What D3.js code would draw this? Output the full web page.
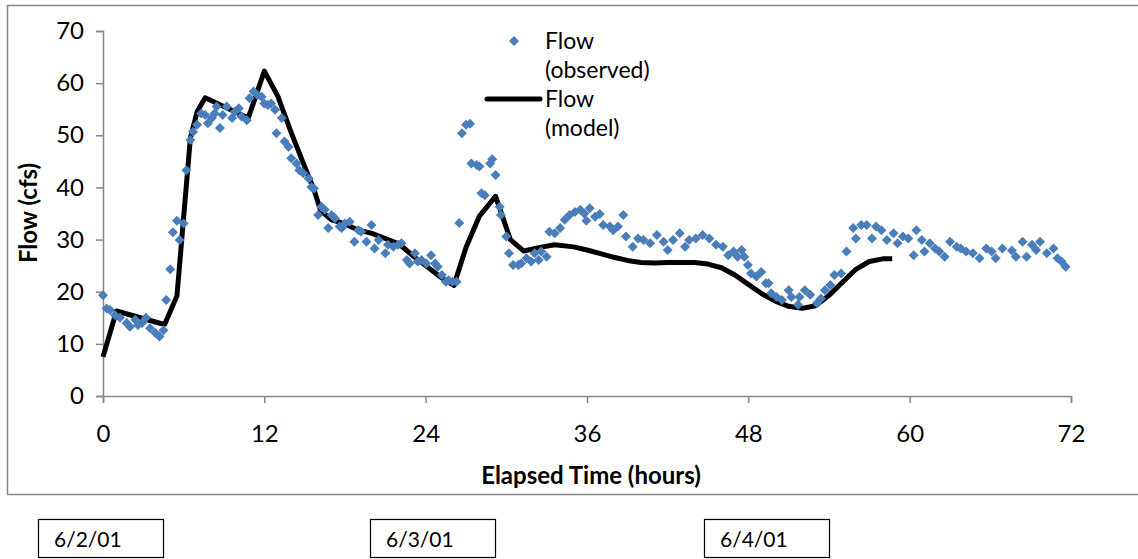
<!DOCTYPE html>
<html>
<head>
<meta charset="utf-8">
<script src="https://cdn.jsdelivr.net/npm/d3@7/dist/d3.min.js"></script>
<style>
  html, body { margin: 0; padding: 0; background: #fff; }
  svg { display: block; font-family: Lato, "Open Sans", "Liberation Sans", sans-serif; }
</style>
</head>
<body>
<svg id="chart" width="1138" height="559"></svg>
<script>
// Observed flow (cfs) against elapsed time (hours)
const observedHours = [
  0.0, 0.27, 0.52, 0.9, 1.26, 1.76, 2.0, 2.4, 2.6, 2.9, 3.2, 3.5, 3.9, 4.2, 4.5, 4.7,
  5.0, 5.2, 5.5, 5.7, 6.0, 6.2, 6.5, 6.7, 7.0, 7.3, 7.6, 7.8, 8.1, 8.3, 8.45, 8.7,
  8.9, 9.2, 9.6, 9.8, 10.1, 10.3, 10.7, 10.9, 11.2, 11.5, 11.8, 12.0, 12.27, 12.5, 12.8, 12.9,
  13.3, 13.5, 13.8, 14.0, 14.4, 14.6, 14.9, 15.3, 15.5, 15.7, 16.0, 16.25, 16.5, 16.75, 17.0, 17.25,
  17.6, 17.75, 18.0, 18.35, 18.7, 19.0, 19.2, 19.6, 19.97, 20.2, 20.5, 21.0, 21.2, 21.6, 21.95, 22.2,
  22.6, 22.8, 23.2, 23.4, 23.7, 24.05, 24.4, 24.7, 24.9, 25.2, 25.5, 25.7, 26.0, 26.3, 26.5, 26.7,
  27.0, 27.3, 27.4, 27.8, 28.0, 28.15, 28.4, 28.8, 28.95, 29.2, 29.5, 29.6, 30.0, 30.2, 30.5, 30.9,
  31.1, 31.5, 31.85, 32.1, 32.4, 32.6, 33.0, 33.2, 33.6, 34.0, 34.35, 34.7, 35.1, 35.5, 35.8, 35.95,
  36.2, 36.6, 36.95, 37.2, 37.7, 37.95, 38.3, 38.7, 38.9, 39.4, 39.8, 40.2, 40.7, 41.2, 41.7, 42.0,
  42.4, 42.9, 43.3, 43.6, 44.1, 44.6, 45.1, 45.6, 46.1, 46.5, 46.9, 47.2, 47.5, 47.7, 47.97, 48.2,
  48.6, 48.96, 49.3, 49.5, 49.7, 50.1, 50.5, 51.0, 51.2, 51.7, 51.8, 52.2, 52.6, 53.1, 53.4, 53.7,
  54.1, 54.4, 54.9, 55.3, 55.8, 56.0, 56.4, 56.8, 57.2, 57.5, 57.9, 58.3, 58.8, 59.1, 59.5, 59.9,
  60.3, 60.5, 60.9, 61.1, 61.5, 61.9, 62.2, 62.6, 63.0, 63.5, 63.8, 64.2, 64.7, 65.2, 65.7, 66.1,
  66.4, 66.9, 67.6, 67.9, 68.4, 68.7, 69.1, 69.4, 69.7, 70.2, 70.7, 71.0, 71.3, 71.6
];
const observedFlow = [
  19.3, 16.8, 16.5, 15.5, 15.0, 14.0, 13.3, 14.6, 13.6, 14.0, 15.0, 13.0, 12.1, 11.4, 12.6, 18.4,
  24.3, 31.4, 33.6, 29.9, 33.1, 43.3, 49.1, 50.7, 52.0, 54.2, 53.9, 52.3, 53.3, 54.2, 55.5, 51.4,
  53.9, 55.5, 53.3, 54.5, 55.2, 53.6, 52.9, 57.1, 58.4, 57.7, 57.4, 56.1, 55.8, 56.1, 54.9, 50.4,
  53.3, 48.8, 47.8, 45.6, 44.6, 43.3, 42.7, 41.7, 40.1, 39.8, 34.7, 36.3, 35.7, 32.2, 34.7, 34.1,
  32.5, 32.2, 33.1, 33.4, 29.6, 31.8, 31.5, 29.6, 32.8, 28.3, 29.9, 27.4, 29.0, 28.6, 29.0, 29.3,
  26.1, 25.4, 27.4, 25.8, 26.1, 25.4, 27.0, 25.4, 24.8, 23.2, 21.9, 22.2, 21.9, 21.9, 33.2, 50.4,
  52.0, 52.2, 44.6, 44.3, 44.0, 38.9, 38.5, 44.6, 45.4, 42.4, 36.3, 34.7, 30.6, 27.4, 25.1, 25.1,
  25.4, 26.4, 25.8, 27.4, 26.1, 27.7, 26.7, 31.5, 31.2, 32.2, 33.8, 34.7, 35.3, 35.7, 35.0, 33.6,
  36.0, 34.4, 34.9, 32.8, 32.5, 31.8, 32.5, 34.7, 30.6, 28.6, 30.2, 29.9, 29.3, 30.9, 29.6, 28.0,
  29.9, 31.2, 28.6, 29.9, 30.2, 30.9, 30.2, 29.0, 28.6, 27.0, 27.7, 26.7, 28.0, 26.7, 25.1, 23.5,
  22.9, 23.8, 21.6, 21.6, 19.7, 19.0, 18.4, 20.3, 19.0, 17.5, 19.0, 20.3, 19.4, 17.8, 18.7, 20.3,
  21.3, 23.2, 23.5, 27.7, 32.2, 30.2, 32.8, 32.8, 30.2, 32.5, 31.8, 29.9, 31.2, 29.3, 30.6, 30.2,
  27.0, 31.8, 29.9, 27.7, 29.3, 28.3, 27.7, 26.7, 29.6, 28.6, 28.3, 27.7, 27.4, 26.4, 28.3, 27.7,
  26.4, 28.3, 27.9, 26.7, 29.6, 26.7, 29.0, 28.0, 29.6, 27.4, 28.3, 26.4, 25.8, 24.8
];

// Modelled flow (cfs)
const modelHours = [
  0, 1.0, 4.3, 4.6, 5.5, 6.5, 7.0, 7.6, 10.8, 12.0, 13.0, 14.0, 15.0, 15.7, 16.2, 17.0,
  18.0, 19.0, 20.0, 21.0, 22.0, 23.0, 24.0, 25.0, 26.1, 27.0, 28.0, 29.2, 30.3, 31.3, 32.5, 33.6,
  35.0, 36.0, 37.0, 38.0, 39.0, 40.0, 41.0, 42.0, 43.0, 44.0, 45.0, 46.0, 47.0, 48.0, 49.0, 50.0,
  51.0, 52.0, 53.0, 54.0, 55.0, 56.0, 57.0, 58.0, 58.7
];
const modelFlow = [
  7.5, 16.3, 13.9, 13.8, 19.2, 49.5, 54.5, 57.2, 53.3, 62.3, 57.5, 50.5, 44.0, 39.5, 35.5, 33.8,
  33.0, 31.8, 31.2, 30.2, 29.2, 27.0, 25.0, 23.0, 21.2, 28.5, 34.5, 38.3, 30.0, 27.8, 28.5, 29.0,
  28.6, 28.0, 27.3, 26.6, 26.0, 25.6, 25.5, 25.6, 25.6, 25.6, 25.3, 24.6, 23.2, 21.4, 19.6, 18.2,
  17.2, 16.8, 17.3, 19.3, 21.8, 24.3, 25.8, 26.3, 26.3
];

const yTicks = [0, 10, 20, 30, 40, 50, 60, 70];
const xTicks = [0, 12, 24, 36, 48, 60, 72];
const dateLabels = ["6/2/01", "6/3/01", "6/4/01"];
const dateBoxLeft = [38, 370, 704];

const seriesNames = ["Flow\n(observed)", "Flow\n(model)"];

const svg = d3.select("#chart");
const gray = "#868686";
const blue = "#4a7ebb";

// chart frame
svg.append("rect")
  .attr("x", 7.5).attr("y", 5.5)
  .attr("width", 1150).attr("height", 489)
  .attr("fill", "#fff").attr("stroke", gray).attr("stroke-width", 1.5);

const x = d3.scaleLinear().domain([0, 72]).range([103, 1071]);
const y = d3.scaleLinear().domain([0, 70]).range([396, 31]);

// y axis
const yAxis = svg.append("g")
  .attr("transform", "translate(103,0)")
  .call(d3.axisLeft(y).tickValues(yTicks).tickSize(7).tickPadding(12));
yAxis.select(".domain").attr("stroke", gray).attr("stroke-width", 1.5);
yAxis.selectAll(".tick line").attr("stroke", gray).attr("stroke-width", 1.5);
yAxis.selectAll(".tick text").attr("font-size", 24).attr("fill", "#000")
  .attr("font-family", "Lato, sans-serif");

// x axis
const xAxis = svg.append("g")
  .attr("transform", "translate(0,396)")
  .call(d3.axisBottom(x).tickValues(xTicks).tickSize(7).tickPadding(22));
xAxis.select(".domain").attr("stroke", gray).attr("stroke-width", 1.5);
xAxis.selectAll(".tick line").attr("stroke", gray).attr("stroke-width", 1.5);
xAxis.selectAll(".tick text").attr("font-size", 24).attr("fill", "#000")
  .attr("font-family", "Lato, sans-serif");

// axis titles
svg.append("text")
  .attr("transform", "translate(37,213) rotate(-90)")
  .attr("text-anchor", "middle")
  .attr("font-size", 24).attr("font-weight", "bold")
  .text("Flow (cfs)");
svg.append("text")
  .attr("x", 591).attr("y", 484)
  .attr("text-anchor", "middle")
  .attr("font-size", 24).attr("font-weight", "bold")
  .text("Elapsed Time (hours)");

// model line
const line = d3.line()
  .x((d, i) => x(modelHours[i]))
  .y(d => y(d));
svg.append("path")
  .datum(modelFlow)
  .attr("d", line)
  .attr("fill", "none")
  .attr("stroke", "#000")
  .attr("stroke-width", 5)
  .attr("stroke-linejoin", "round");

// observed points (diamonds)
const diamond = "M0,-5L5,0L0,5L-5,0Z";
svg.append("g").selectAll("path")
  .data(observedFlow)
  .join("path")
  .attr("d", diamond)
  .attr("transform", (d, i) => `translate(${x(observedHours[i])},${y(d)})`)
  .attr("fill", blue);

// legend
const lg = svg.append("g");
lg.append("path").attr("d", diamond).attr("transform", "translate(514,41)").attr("fill", blue);
lg.append("line").attr("x1", 487).attr("x2", 540).attr("y1", 99).attr("y2", 99)
  .attr("stroke", "#000").attr("stroke-width", 5).attr("stroke-linecap", "round");
seriesNames.forEach((name, k) => {
  const t = lg.append("text").attr("x", 545).attr("font-size", 23);
  name.split("\n").forEach((part, j) => {
    t.append("tspan").attr("x", 545).attr("y", 49 + k * 58 + j * 29).text(part);
  });
});

// date boxes
const db = svg.append("g");
dateLabels.forEach((lab, i) => {
  db.append("rect")
    .attr("x", dateBoxLeft[i] + 0.5).attr("y", 519.5)
    .attr("width", 125).attr("height", 38)
    .attr("fill", "#fff").attr("stroke", "#000").attr("stroke-width", 1.2);
  db.append("text")
    .attr("x", dateBoxLeft[i] + 16).attr("y", 547)
    .attr("font-size", 21)
    .text(lab);
});
</script>
</body>
</html>
